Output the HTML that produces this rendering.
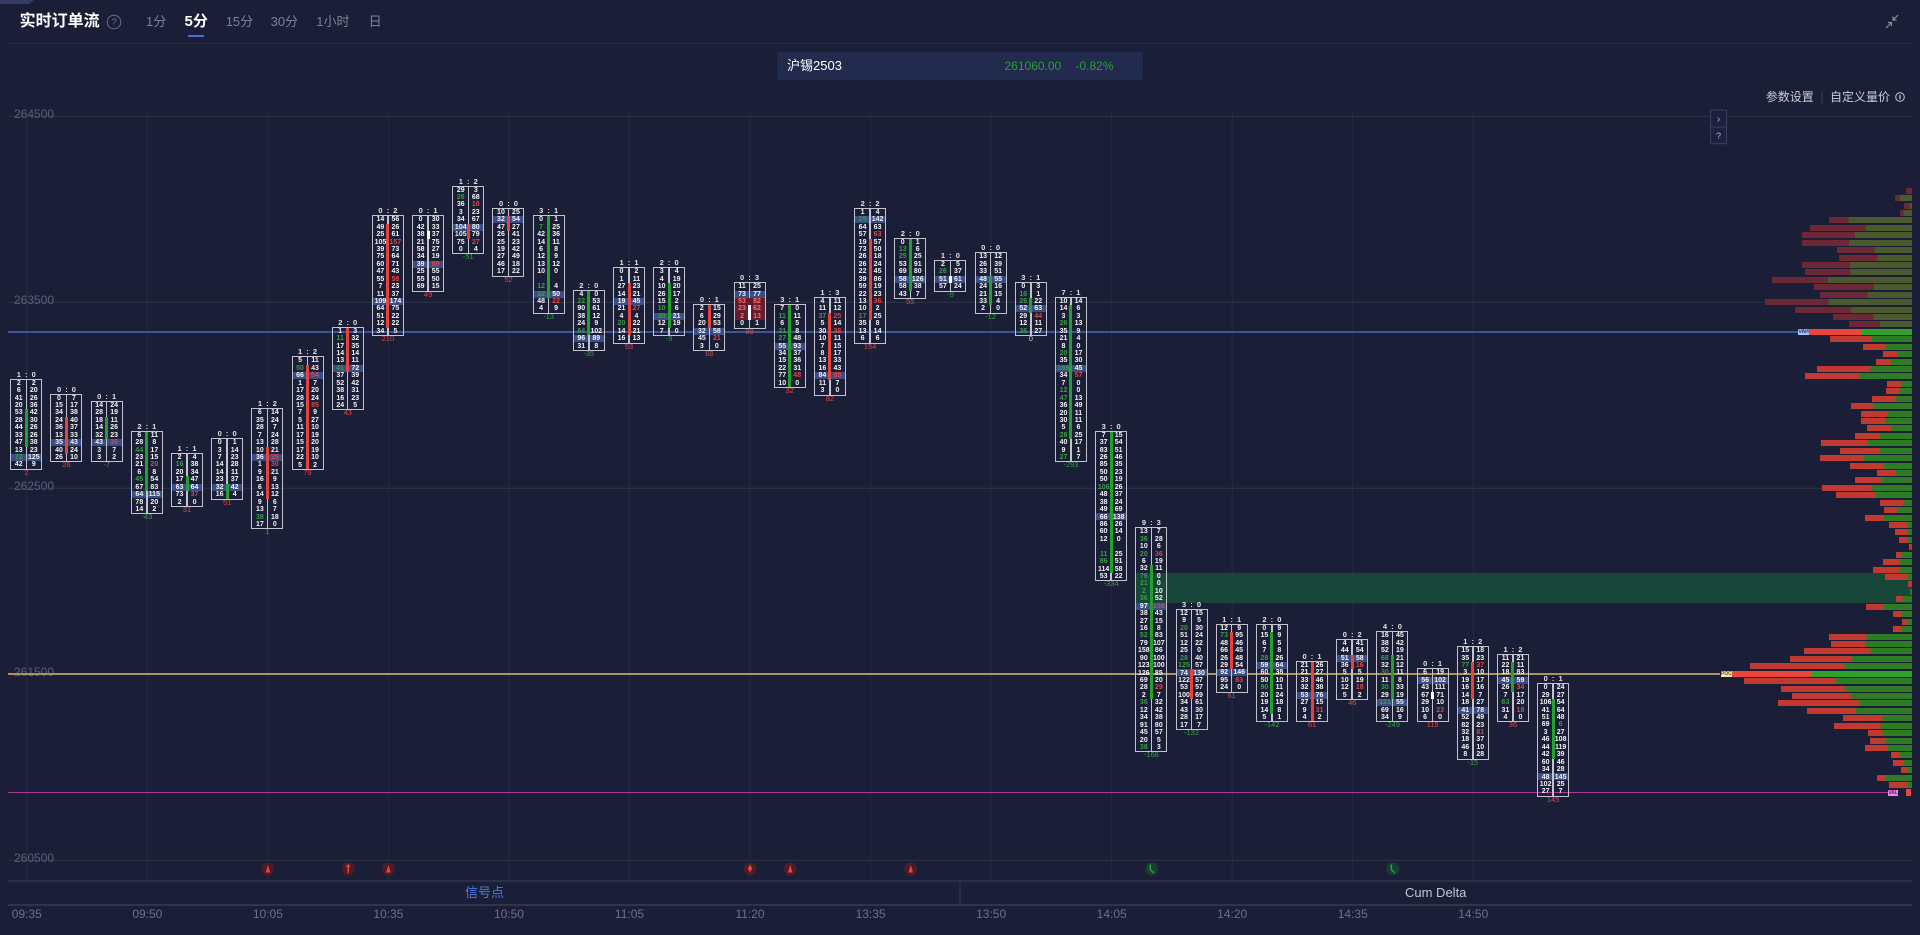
<!DOCTYPE html>
<html><head><meta charset="utf-8">
<style>
*{box-sizing:content-box}
html,body{margin:0;padding:0}
body{width:1920px;height:935px;overflow:hidden;background:#1b1e37;font-family:"Liberation Sans","Noto Sans CJK SC",sans-serif;position:relative}
.a{position:absolute;white-space:nowrap}
.k{position:absolute;left:calc(10.3px + var(--x)*40.18px);top:calc(185.5px + var(--k)*7.43px);width:30px;height:calc(var(--n)*7.43px);border:1.5px solid #c2c3cc;background:linear-gradient(#3a4d85,#3a4d85) 0 calc(var(--h)*7.43px)/100% 7.43px no-repeat}
.k::before{content:"";position:absolute;left:14.25px;top:0;bottom:0;width:1.5px;background:#c2c3cc}
.k::after{content:"";position:absolute;left:13.5px;width:3px;top:calc(var(--a)*7.43px);height:calc((var(--b) - var(--a))*7.43px)}
.G::after{background:#22a12c}.R::after{background:#e8433a}.W::after{background:#ffffff}
.k p{position:absolute;top:0;left:0;width:15px;margin:0;font:bold 7px/7.43px "Liberation Sans",sans-serif;color:#f3f3f3;text-align:center;word-spacing:40px;white-space:normal}
.k p.c{left:15px}
.k p i{font-style:normal;color:#3a9d44}
.k p.c i{color:#e2453e}
.k p i.x{color:#ff6d6d}
.k .rb{position:absolute;left:0;right:0;background:#651c2c}
.k em{position:absolute;left:-12px;right:-12px;top:-9px;text-align:center;font:bold 7.5px/8px "Liberation Sans",sans-serif;font-style:normal;color:#e4e4e4;word-spacing:2px}
.k small{position:absolute;left:-12px;right:-12px;top:100%;text-align:center;font:7.5px/8px "Liberation Sans",sans-serif}
small.r{color:#d4494a}small.g{color:#3b9c48}small.w{color:#cfcfcf}
.pf b{position:absolute;height:6px;top:calc(187.7px + var(--k)*7.43px);left:calc(var(--a)*1px);width:calc(1912px - var(--a)*1px);background:linear-gradient(90deg,#c13a2f calc((var(--b) - var(--a))*1px),#2d7b22 0)}
.pf b.d{background:linear-gradient(90deg,#6b2835 calc((var(--b) - var(--a))*1px),#4b592f 0)}
.pf b.v{background:linear-gradient(90deg,#e9473c calc((var(--b) - var(--a))*1px),#30a22b 0)}
.t{position:absolute;top:906px;width:60px;left:calc(-3.2px + var(--m)*120.54px);text-align:center;font-size:12px;line-height:16px;color:#6c718a}
.y{position:absolute;left:14px;font-size:12px;line-height:14px;color:#5b5f78}
.tab{position:absolute;top:12px;line-height:20px;font-size:13px;color:#7c8199}
.lb{position:absolute;height:6px;font:bold 5px/6px "Liberation Sans",sans-serif;text-align:center}
</style></head><body>

<svg class="a" style="left:0;top:0" width="1920" height="935">
<polygon points="0,0 34,0 29,4 0,4" fill="#353d66"/>
<line x1="8" y1="43.5" x2="1912" y2="43.5" stroke="#272b44" stroke-width="1"/>
<g stroke="#262a41" stroke-width="1">
<line x1="26.8" y1="110" x2="26.8" y2="881"/><line x1="147.34" y1="110" x2="147.34" y2="881"/><line x1="267.88" y1="110" x2="267.88" y2="881"/><line x1="388.42" y1="110" x2="388.42" y2="881"/><line x1="508.96" y1="110" x2="508.96" y2="881"/><line x1="629.5" y1="110" x2="629.5" y2="881"/><line x1="750.04" y1="110" x2="750.04" y2="881"/><line x1="870.58" y1="110" x2="870.58" y2="881"/><line x1="991.12" y1="110" x2="991.12" y2="881"/><line x1="1111.66" y1="110" x2="1111.66" y2="881"/><line x1="1232.2" y1="110" x2="1232.2" y2="881"/><line x1="1352.74" y1="110" x2="1352.74" y2="881"/><line x1="1473.28" y1="110" x2="1473.28" y2="881"/>
</g>
<g stroke="#2e3249" stroke-width="1.2">
<line x1="8" y1="116.3" x2="1912" y2="116.3"/><line x1="8" y1="302.3" x2="1912" y2="302.3"/><line x1="8" y1="488.3" x2="1912" y2="488.3"/><line x1="8" y1="674.3" x2="1912" y2="674.3"/><line x1="8" y1="860.3" x2="1912" y2="860.3"/>
</g>
<line x1="8" y1="881" x2="1912" y2="881" stroke="#363a53" stroke-width="1.2"/>
<line x1="8" y1="905" x2="1912" y2="905" stroke="#30344c" stroke-width="2"/>
<line x1="960" y1="881" x2="960" y2="905" stroke="#363a53" stroke-width="1"/>
<g fill="#4b1d2b"><circle cx="267.88" cy="869" r="6.5"/><circle cx="348.24" cy="869" r="6.5"/><circle cx="388.42" cy="869" r="6.5"/><circle cx="750.04" cy="869" r="6.5"/><circle cx="790.22" cy="869" r="6.5"/><circle cx="910.76" cy="869" r="6.5"/></g>
<g fill="#ee4438">
<path d="M265.6 872.5L267.88 865L270.2 872.5Z"/><path d="M347.5 873L347.5 867L345.8 867L348.24 864L350.7 867L349 867L349 873Z"/><path d="M386.1 872.5L388.42 865L390.7 872.5Z"/><path d="M750.04 864.5L752.3 868.5L750.04 872.5L747.8 868.5Z"/><path d="M787.9 872.5L790.22 865L792.5 872.5Z"/><path d="M908.5 872.5L910.76 865L913 872.5Z"/>
</g>
<g fill="#173d34"><circle cx="1151.84" cy="869" r="6.5"/><circle cx="1392.92" cy="869" r="6.5"/></g>
<g stroke="#2fa63a" fill="none" stroke-width="1.4"><path d="M1150.3 864.5L1150.3 869.5L1153.8 873"/><path d="M1391.4 864.5L1391.4 869.5L1394.9 873"/></g>
<circle cx="114" cy="22" r="6.8" stroke="#6a6e86" fill="none" stroke-width="1"/>
<text x="114" y="25.6" font-size="10" fill="#6a6e86" text-anchor="middle" font-family="Liberation Sans">?</text>
<g stroke="#8a8ea4" stroke-width="1.2" fill="none"><path d="M1886 28L1891.5 22.5M1888 22.5L1891.5 22.5L1891.5 26"/><path d="M1898 15L1893 20M1893 16.5L1893 20L1896.5 20"/></g>
<polyline points="1122,62 1127.5,67.5 1133,62" stroke="#9aa0b8" fill="none" stroke-width="1.1"/>
<line x1="1822" y1="91" x2="1822" y2="103" stroke="#3a3e58"/>
<circle cx="1900" cy="97" r="4.3" stroke="#b8bbc8" fill="none" stroke-width="1.1"/><rect x="1899.3" y="94.8" width="1.4" height="4.4" fill="#b8bbc8"/>
<rect x="1710.5" y="110" width="16" height="17" fill="#1d2140" stroke="#3b4060"/>
<rect x="1710.5" y="127" width="16" height="16.7" fill="#1d2140" stroke="#3b4060"/>
<text x="1718.5" y="122" font-size="10" fill="#b0b4c4" text-anchor="middle" font-family="Liberation Sans">›</text>
<text x="1718.5" y="139" font-size="9" fill="#b0b4c4" text-anchor="middle" font-family="Liberation Sans">?</text>
</svg>

<div class="a" style="left:19.6px;top:12px;font-size:16px;line-height:20px;font-weight:bold;color:#fff">实时订单流</div>
<div class="tab" style="left:146px">1分</div>
<div class="tab" style="left:184.5px;color:#fff;font-weight:bold;font-size:15px">5分</div>
<div class="tab" style="left:225.7px">15分</div>
<div class="tab" style="left:270.6px">30分</div>
<div class="tab" style="left:316.3px">1小时</div>
<div class="tab" style="left:368.6px">日</div>
<div class="a" style="left:188px;top:35px;width:16px;height:2px;background:#4b6fd6"></div>

<div class="a" style="left:777px;top:52px;width:366px;height:28px;background:#222b4d;border-radius:2px"></div>
<div class="a" style="left:787px;top:52px;line-height:28px;font-size:13px;color:#fff">沪锡2503</div>
<div class="a" style="left:1004.5px;top:52px;line-height:28px;font-size:12px;color:#2a9d38">261060.00</div>
<div class="a" style="left:1075.5px;top:52px;line-height:28px;font-size:12px;color:#2a9d38">-0.82%</div>

<div class="a" style="left:1765.7px;top:89px;line-height:16px;font-size:12px;color:#c9ccd8">参数设置</div>
<div class="a" style="left:1830px;top:89px;line-height:16px;font-size:12px;color:#c9ccd8">自定义量价</div>

<div class="y" style="top:107px">264500</div>
<div class="y" style="top:293px">263500</div>
<div class="y" style="top:479px">262500</div>
<div class="y" style="top:665px">261500</div>
<div class="y" style="top:851px">260500</div>

<div class="a" style="left:1136px;top:573.3px;width:776px;height:29.8px;background:#184638"></div>
<div class="a" style="left:8px;top:331px;width:1790px;height:2px;background:#3b5597"></div>
<div class="a" style="left:8px;top:673px;width:1712px;height:1.5px;background:#ab935b"></div>
<div class="a" style="left:8px;top:791.8px;width:1880px;height:1.5px;background:#a5399a"></div>

<div class="k G" style="--x:0;--k:26;--n:12;--h:10;--a:4;--b:9"><em>1 : 0</em><p>2 6 41 20 53 28 44 33 47 13 <i>72</i> 42</p><p class="c">2 20 26 36 42 30 26 26 38 23 125 9</p><small class="r">2</small></div>
<div class="k R" style="--x:1;--k:28;--n:9;--h:6;--a:3;--b:8"><em>0 : 0</em><p>0 15 34 24 36 13 35 40 26</p><p class="c">7 17 38 40 37 33 43 24 10</p><small class="r">26</small></div>
<div class="k G" style="--x:2;--k:29;--n:8;--h:5;--a:2;--b:5"><em>0 : 1</em><p>14 28 18 14 32 43 3 3</p><p class="c">24 19 11 26 23 <i>36</i> 7 2</p><small class="g">-7</small></div>
<div class="k G" style="--x:3;--k:33;--n:11;--h:8;--a:0;--b:8"><em>2 : 1</em><p>6 28 <i>44</i> 23 21 6 <i>45</i> 67 64 78 14</p><p class="c">11 8 17 15 <i>20</i> 8 54 83 115 20 2</p><small class="g">-43</small></div>
<div class="k G" style="--x:4;--k:36;--n:7;--h:4;--a:3;--b:5"><em>1 : 1</em><p>2 <i>16</i> 20 17 63 73 2</p><p class="c">4 38 34 47 64 <i>37</i> 0</p><small class="r">31</small></div>
<div class="k G" style="--x:5;--k:34;--n:8;--h:6;--a:6;--b:8"><em>0 : 0</em><p>0 3 7 14 14 23 32 16</p><p class="c">1 14 23 28 11 37 42 4</p><small class="r">51</small></div>
<div class="k R" style="--x:6;--k:30;--n:16;--h:6;--a:5;--b:12"><em>1 : 2</em><p>6 35 28 7 13 10 36 1 9 16 6 14 9 13 <i>38</i> 17</p><p class="c">14 24 7 24 28 21 <i>25</i> <i>30</i> 21 9 13 12 6 7 18 0</p><small class="r">1</small></div>
<div class="k R" style="--x:7;--k:23;--n:15;--h:2;--a:1;--b:15"><em>1 : 2</em><p>5 <i>50</i> 66 1 17 28 15 7 5 11 17 15 17 22 5</p><p class="c">11 43 <i>54</i> 7 20 24 <i>85</i> 9 27 10 19 20 19 10 2</p><small class="r">79</small></div>
<div class="k R" style="--x:8;--k:19;--n:11;--h:5;--a:0;--b:6"><em>2 : 0</em><p>1 <i>11</i> 17 14 13 <i>41</i> 37 52 38 16 24</p><p class="c">3 32 35 14 11 72 39 42 31 23 5</p><small class="r">43</small></div>
<div class="k R" style="--x:9;--k:4;--n:16;--h:11;--a:1;--b:15"><em>0 : 2</em><p>14 49 25 105 39 75 60 47 55 7 11 109 64 51 12 34</p><p class="c">56 26 61 <i>157</i> 73 64 71 43 <i>58</i> 23 37 174 75 22 22 5</p><small class="r">210</small></div>
<div class="k W" style="--x:10;--k:4;--n:10;--h:6;--a:2;--b:3"><em>0 : 1</em><p>0 42 38 21 58 34 39 25 55 69</p><p class="c">30 33 37 75 27 19 <i>89</i> 55 50 15</p><small class="r">49</small></div>
<div class="k R" style="--x:11;--k:0;--n:9;--h:5;--a:5;--b:7"><em>1 : 2</em><p>29 <i>26</i> 36 3 34 104 105 75 0</p><p class="c">3 68 <i>10</i> 23 67 80 79 <i>27</i> 4</p><small class="g">-51</small></div>
<div class="k R" style="--x:12;--k:3;--n:9;--h:1;--a:1;--b:3"><em>0 : 0</em><p>10 32 47 26 25 19 27 46 17</p><p class="c">25 54 27 41 23 42 49 18 22</p><small class="r">52</small></div>
<div class="k G" style="--x:13;--k:4;--n:13;--h:10;--a:0;--b:11"><em>3 : 1</em><p>0 <i>7</i> 42 14 6 12 13 10<br><br><i>12</i> <i>32</i> 48 4</p><p class="c">1 25 36 11 8 9 12 0<br><br>4 50 <i>22</i> 9</p><small class="g">-13</small></div>
<div class="k G" style="--x:14;--k:14;--n:8;--h:6;--a:0;--b:6"><em>2 : 0</em><p>4 <i>22</i> 90 38 24 <i>64</i> 96 31</p><p class="c">0 53 61 12 9 102 89 8</p><small class="g">-35</small></div>
<div class="k R" style="--x:15;--k:11;--n:10;--h:4;--a:2;--b:9"><em>1 : 1</em><p>0 1 27 14 19 21 4 <i>20</i> 14 16</p><p class="c">2 11 23 21 45 <i>27</i> 4 22 21 13</p><small class="r">53</small></div>
<div class="k G" style="--x:16;--k:11;--n:9;--h:6;--a:2;--b:8"><em>2 : 0</em><p>3 4 10 26 15 <i>10</i> <i>30</i> 12 7</p><p class="c">4 19 20 17 2 6 21 19 0</p><small class="g">-9</small></div>
<div class="k R" style="--x:17;--k:16;--n:6;--h:3;--a:0;--b:3"><em>0 : 1</em><p>2 6 20 32 45 3</p><p class="c">15 29 53 58 <i>21</i> 0</p><small class="r">68</small></div>
<div class="k W" style="--x:18;--k:13;--n:6;--h:1;--a:3;--b:5"><em>0 : 3</em><b class="rb" style="top:14.86px;height:22.29px"></b><p>11 73 <i class="x">53</i> <i class="x">23</i> <i class="x">2</i> 0</p><p class="c">25 77 <i class="x">82</i> <i class="x">62</i> <i class="x">13</i> 1</p><small class="r">98</small></div>
<div class="k G" style="--x:19;--k:16;--n:11;--h:5;--a:0;--b:11"><em>3 : 1</em><p>7 <i>11</i> 6 <i>21</i> <i>27</i> 55 34 15 22 77 10</p><p class="c">0 11 5 8 48 93 37 36 31 <i>48</i> 0</p><small class="r">32</small></div>
<div class="k R" style="--x:20;--k:15;--n:13;--h:10;--a:2;--b:11"><em>1 : 3</em><p>4 11 <i>37</i> 5 30 10 7 8 13 16 84 11 3</p><p class="c">11 12 <i>25</i> 14 <i>38</i> 11 15 17 33 43 <i>95</i> 7 0</p><small class="r">82</small></div>
<div class="k R" style="--x:21;--k:3;--n:18;--h:1;--a:4;--b:15"><em>2 : 2</em><p>1 <i>29</i> 64 57 19 73 26 26 22 39 59 22 13 10 <i>17</i> 35 13 6</p><p class="c">4 142 63 <i>63</i> 57 50 18 24 45 86 19 23 <i>36</i> 2 25 8 14 6</p><small class="r">154</small></div>
<div class="k G" style="--x:22;--k:7;--n:8;--h:5;--a:0;--b:7"><em>2 : 0</em><p>0 <i>13</i> <i>25</i> 53 69 58 58 43</p><p class="c">1 6 25 91 80 126 38 7</p><small class="r">55</small></div>
<div class="k W" style="--x:23;--k:10;--n:4;--h:2;--a:2;--b:3"><em>1 : 0</em><p>2 <i>26</i> 51 57</p><p class="c">5 37 61 24</p><small class="g">-9</small></div>
<div class="k G" style="--x:24;--k:9;--n:8;--h:3;--a:3;--b:7"><em>0 : 0</em><p>13 26 33 48 24 21 33 2</p><p class="c">12 39 51 55 16 15 4 0</p><small class="g">-12</small></div>
<div class="k G" style="--x:25;--k:13;--n:7;--h:3;--a:2;--b:4"><em>3 : 1</em><p>0 <i>16</i> <i>26</i> 52 29 12 <i>36</i></p><p class="c">3 1 22 63 <i>44</i> 11 27</p><small class="w">0</small></div>
<div class="k G" style="--x:26;--k:15;--n:22;--h:9;--a:1;--b:19"><em>7 : 1</em><p>10 14 3 <i>26</i> 35 21 8 <i>20</i> 35 <i>166</i> 34 7 <i>12</i> <i>47</i> 36 20 30 5 <i>26</i> 40 9 <i>27</i></p><p class="c">14 6 3 13 9 4 0 17 30 45 <i>57</i> 0 0 13 49 11 11 6 25 17 1 7</p><small class="g">-293</small></div>
<div class="k G" style="--x:27;--k:33;--n:20;--h:11;--a:0;--b:19"><em>3 : 0</em><p>7 37 83 26 85 50 50 <i>106</i> 48 38 49 66 86 60 12<br><br><i>11</i> <i>86</i> 114 53</p><p class="c">15 54 51 46 35 23 19 26 37 24 69 138 26 14 0<br><br>25 51 58 22</p><small class="g">-334</small></div>
<div class="k G" style="--x:28;--k:46;--n:30;--h:10;--a:5;--b:23"><em>9 : 3</em><p>13 <i>36</i> 10 <i>20</i> 6 32 <i>76</i> <i>21</i> <i>2</i> <i>36</i> 97 38 27 16 <i>52</i> 79 158 90 123 126 69 28 2 <i>36</i> 12 34 91 45 20 <i>38</i></p><p class="c">7 28 6 <i>36</i> 19 11 0 0 10 52 <i>158</i> 43 15 8 83 107 86 100 100 85 20 <i>29</i> 7 32 42 38 80 57 5 3</p><small class="g">-166</small></div>
<div class="k R" style="--x:29;--k:57;--n:16;--h:8;--a:8;--b:12"><em>3 : 0</em><p>12 9 <i>20</i> 51 12 25 <i>28</i> <i>125</i> 74 122 53 100 34 43 28 17</p><p class="c">15 5 30 24 22 0 40 57 130 57 57 69 61 30 17 7</p><small class="g">-132</small></div>
<div class="k R" style="--x:30;--k:59;--n:9;--h:6;--a:1;--b:6"><em>1 : 1</em><p>12 <i>73</i> 48 66 26 29 92 95 24</p><p class="c">9 95 46 45 48 54 146 <i>83</i> 0</p><small class="r">61</small></div>
<div class="k G" style="--x:31;--k:59;--n:13;--h:5;--a:1;--b:12"><em>2 : 0</em><p>0 15 6 7 <i>28</i> 59 60 50 <i>90</i> 20 19 14 5</p><p class="c">9 9 5 8 26 64 38 10 11 24 18 8 1</p><small class="g">-142</small></div>
<div class="k R" style="--x:32;--k:64;--n:8;--h:4;--a:0;--b:8"><em>0 : 1</em><p>21 21 33 32 53 27 9 4</p><p class="c">26 27 46 38 76 15 <i>31</i> 2</p><small class="r">61</small></div>
<div class="k R" style="--x:33;--k:61;--n:8;--h:2;--a:2;--b:4"><em>0 : 2</em><p>4 44 51 36 5 10 12 5</p><p class="c">41 54 58 <i>16</i> 5 19 <i>18</i> 2</p><small class="r">46</small></div>
<div class="k G" style="--x:34;--k:60;--n:12;--h:9;--a:3;--b:9"><em>4 : 0</em><p>16 38 52 <i>68</i> 32 <i>30</i> 11 <i>30</i> 29 <i>121</i> 69 34</p><p class="c">45 42 19 21 12 11 8 33 19 55 16 9</p><small class="g">-249</small></div>
<div class="k W" style="--x:35;--k:65;--n:7;--h:1;--a:3;--b:4"><em>0 : 1</em><p>6 56 43 67 29 10 6</p><p class="c">19 102 111 71 10 <i>23</i> 0</p><small class="r">119</small></div>
<div class="k R" style="--x:36;--k:62;--n:15;--h:8;--a:2;--b:7"><em>1 : 2</em><p>15 35 <i>77</i> 3 19 16 14 18 41 52 82 32 18 46 8</p><p class="c">18 23 <i>37</i> 10 17 16 7 27 78 49 23 <i>81</i> 37 10 28</p><small class="g">-15</small></div>
<div class="k G" style="--x:37;--k:63;--n:9;--h:3;--a:1;--b:5"><em>1 : 2</em><p>11 22 18 45 26 7 <i>63</i> 31 4</p><p class="c">21 11 83 59 <i>34</i> 17 20 <i>18</i> 0</p><small class="r">36</small></div>
<div class="k G" style="--x:38;--k:67;--n:15;--h:12;--a:2;--b:10"><em>0 : 1</em><p>0 29 106 41 51 69 3 46 44 42 60 34 48 102 27</p><p class="c">24 27 54 64 48 <i>6</i> 27 108 119 39 46 28 145 25 7</p><small class="r">145</small></div>

<div class="pf">
<b class="d" style="--k:0;--a:1906;--b:1912"></b>
<b class="d" style="--k:1;--a:1895;--b:1900"></b>
<b class="d" style="--k:2;--a:1904;--b:1910"></b>
<b class="d" style="--k:3;--a:1900;--b:1903.3"></b>
<b class="d" style="--k:4;--a:1829.3;--b:1849"></b>
<b class="d" style="--k:5;--a:1810;--b:1866"></b>
<b class="d" style="--k:6;--a:1802;--b:1855"></b>
<b class="d" style="--k:7;--a:1802;--b:1849"></b>
<b class="d" style="--k:8;--a:1836.7;--b:1874"></b>
<b class="d" style="--k:9;--a:1838.7;--b:1876.7"></b>
<b class="d" style="--k:10;--a:1802;--b:1850"></b>
<b class="d" style="--k:11;--a:1805.3;--b:1851"></b>
<b class="d" style="--k:12;--a:1772;--b:1828"></b>
<b class="d" style="--k:13;--a:1814;--b:1874"></b>
<b class="d" style="--k:14;--a:1820;--b:1867.3"></b>
<b class="d" style="--k:15;--a:1764.7;--b:1828"></b>
<b class="d" style="--k:16;--a:1795;--b:1851"></b>
<b class="d" style="--k:17;--a:1833.3;--b:1874"></b>
<b class="d" style="--k:18;--a:1849;--b:1880"></b>
<b class="v" style="--k:19;--a:1809;--b:1861"></b>
<b style="--k:20;--a:1830;--b:1871.7"></b>
<b style="--k:21;--a:1863;--b:1885.3"></b>
<b style="--k:22;--a:1883;--b:1897"></b>
<b style="--k:23;--a:1875.7;--b:1890"></b>
<b style="--k:24;--a:1816.7;--b:1870"></b>
<b style="--k:25;--a:1805.3;--b:1859.3"></b>
<b style="--k:26;--a:1886.7;--b:1901.7"></b>
<b style="--k:27;--a:1885.7;--b:1899.3"></b>
<b style="--k:28;--a:1871.7;--b:1895.3"></b>
<b style="--k:29;--a:1850.7;--b:1873.3"></b>
<b style="--k:30;--a:1861.3;--b:1888"></b>
<b style="--k:31;--a:1861.3;--b:1886"></b>
<b style="--k:32;--a:1867.3;--b:1892"></b>
<b style="--k:33;--a:1855;--b:1880"></b>
<b style="--k:34;--a:1821.3;--b:1867.7"></b>
<b style="--k:35;--a:1840;--b:1880"></b>
<b style="--k:36;--a:1820;--b:1864"></b>
<b style="--k:37;--a:1850;--b:1883.3"></b>
<b style="--k:38;--a:1876.7;--b:1894.7"></b>
<b style="--k:39;--a:1855;--b:1882"></b>
<b style="--k:40;--a:1821.7;--b:1871"></b>
<b style="--k:41;--a:1836.3;--b:1875.3"></b>
<b style="--k:42;--a:1880.3;--b:1903.3"></b>
<b style="--k:43;--a:1884.3;--b:1898"></b>
<b style="--k:44;--a:1865.3;--b:1884"></b>
<b style="--k:45;--a:1888.7;--b:1907.3"></b>
<b style="--k:46;--a:1895.3;--b:1908"></b>
<b style="--k:47;--a:1898.7;--b:1907.3"></b>
<b style="--k:48;--a:1909.3;--b:1912"></b>
<b style="--k:49;--a:1895.7;--b:1901.3"></b>
<b style="--k:50;--a:1883;--b:1899.3"></b>
<b style="--k:51;--a:1873.3;--b:1900"></b>
<b style="--k:52;--a:1885;--b:1908"></b>
<b style="--k:53;--a:1908.3;--b:1912"></b>
<b style="--k:54;--a:1910;--b:1910"></b>
<b style="--k:55;--a:1896.3;--b:1903"></b>
<b style="--k:56;--a:1866;--b:1883.7"></b>
<b style="--k:57;--a:1892.7;--b:1901.7"></b>
<b style="--k:58;--a:1902;--b:1908"></b>
<b style="--k:59;--a:1893.3;--b:1902"></b>
<b style="--k:60;--a:1828.7;--b:1866"></b>
<b style="--k:61;--a:1831;--b:1865"></b>
<b style="--k:62;--a:1804.3;--b:1870.7"></b>
<b style="--k:63;--a:1790.3;--b:1851.7"></b>
<b style="--k:64;--a:1749.7;--b:1844"></b>
<b class="v" style="--k:65;--a:1732;--b:1812"></b>
<b style="--k:66;--a:1744;--b:1836"></b>
<b style="--k:67;--a:1781.3;--b:1845.3"></b>
<b style="--k:68;--a:1792;--b:1851"></b>
<b style="--k:69;--a:1777.7;--b:1859.3"></b>
<b style="--k:70;--a:1807.3;--b:1856"></b>
<b style="--k:71;--a:1843.3;--b:1882.7"></b>
<b style="--k:72;--a:1833.7;--b:1880"></b>
<b style="--k:73;--a:1867.7;--b:1882.3"></b>
<b style="--k:74;--a:1870;--b:1885.3"></b>
<b style="--k:75;--a:1865.3;--b:1888"></b>
<b style="--k:76;--a:1891;--b:1900"></b>
<b style="--k:77;--a:1893;--b:1904"></b>
<b style="--k:78;--a:1900.7;--b:1907.3"></b>
<b style="--k:79;--a:1877.3;--b:1886"></b>
<b style="--k:80;--a:1889.3;--b:1908"></b>
</div>
<div class="a" style="left:1906px;top:788.5px;width:4.7px;height:7px;background:#e9473c"></div>
<div class="lb" style="left:1798.3px;top:329px;width:10.7px;background:#a9c0f0;color:#203070">VAH</div>
<div class="lb" style="left:1720.7px;top:670.7px;width:11.3px;background:#efe2b4;color:#6a5a20">POC</div>
<div class="lb" style="left:1888.3px;top:789.5px;width:9.7px;background:#e98be6;color:#6a1a6a">VAL</div>

<div class="a" style="left:465px;top:884px;line-height:18px;font-size:13px;color:#4a7be0">信号点</div>
<div class="a" style="left:1405px;top:884px;line-height:18px;font-size:13px;color:#c2c6d2">Cum Delta</div>

<div class="t" style="--m:0">09:35</div>
<div class="t" style="--m:1">09:50</div>
<div class="t" style="--m:2">10:05</div>
<div class="t" style="--m:3">10:35</div>
<div class="t" style="--m:4">10:50</div>
<div class="t" style="--m:5">11:05</div>
<div class="t" style="--m:6">11:20</div>
<div class="t" style="--m:7">13:35</div>
<div class="t" style="--m:8">13:50</div>
<div class="t" style="--m:9">14:05</div>
<div class="t" style="--m:10">14:20</div>
<div class="t" style="--m:11">14:35</div>
<div class="t" style="--m:12">14:50</div>
</body></html>
